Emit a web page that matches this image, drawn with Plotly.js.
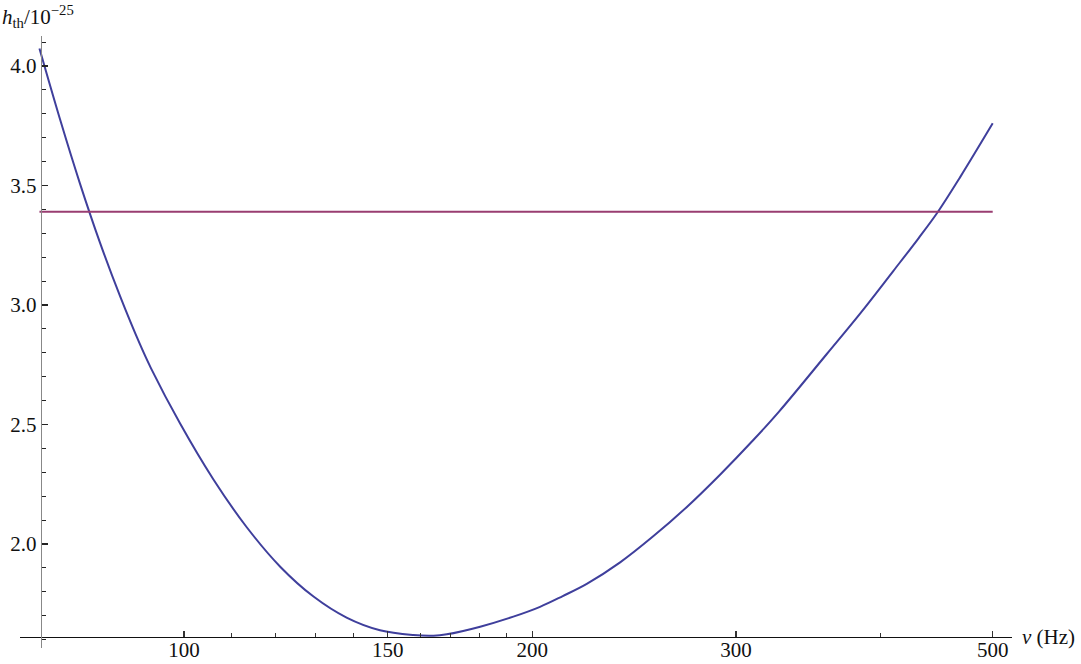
<!DOCTYPE html>
<html>
<head>
<meta charset="utf-8">
<script src="https://cdn.plot.ly/plotly-3.0.1.min.js"></script>
<style>html,body{margin:0;padding:0;background:#fff;}#chart{width:1081px;height:664px;}</style>
</head>
<body>
<div id="chart"></div>
<script>
// frequency (Hz) and threshold strain h_th in units of 1e-25
const freq = [75, 78.1, 81.3, 84.6, 88.05, 91.6, 93.65, 99.2, 106, 113.3, 121.1, 129.4, 138.2, 147.7, 157.8, 164.3, 168.7, 180.3, 192.6, 203.1, 212.5, 222.9, 238.2, 254.4, 271.9, 290.6, 310.5, 326.8, 359.4, 384, 410.2, 431.2, 448.4, 468.5, 500];
const hth  = [4.073, 3.780, 3.508, 3.261, 3.037, 2.836, 2.735, 2.505, 2.271, 2.070, 1.905, 1.780, 1.692, 1.639, 1.619, 1.616, 1.622, 1.654, 1.696, 1.737, 1.782, 1.833, 1.923, 2.032, 2.154, 2.290, 2.435, 2.554, 2.795, 2.964, 3.142, 3.278, 3.390, 3.534, 3.760];
const levelX = [75, 500];
const levelY = [3.39, 3.39];

const xMajorTicks = [100, 150, 200, 300, 500];
const xMajorLabels = ["100", "150", "200", "300", "500"];
const xMinorTicks = [110, 120, 130, 140, 160, 170, 180, 190, 400];

const font = "Liberation Serif, Times New Roman, serif";

const traces = [
  {x: freq, y: hth, type: 'scatter', mode: 'lines',
   line: {color: '#3f3f9c', width: 2, shape: 'spline', smoothing: 1}, hoverinfo: 'skip'},
  {x: levelX, y: levelY, type: 'scatter', mode: 'lines',
   line: {color: '#993d71', width: 2}, hoverinfo: 'skip'}
];

const layout = {
  width: 1081, height: 664, autosize: false,
  margin: {l: 20, r: 69, t: 36, b: 16, pad: 0},
  paper_bgcolor: '#fff', plot_bgcolor: '#fff',
  showlegend: false,
  font: {family: font, size: 21, color: '#111'},
  xaxis: {
    type: 'log', range: [1.85825, 2.71564],
    anchor: 'free', position: 0.0185,
    showgrid: false, zeroline: false,
    showline: true, linecolor: '#111', linewidth: 1.3,
    tickmode: 'array', tickvals: xMajorTicks, ticktext: xMajorLabels,
    ticks: 'inside', ticklen: 6, tickwidth: 1.2, tickcolor: '#333',
    ticklabelstandoff: -6,
    tickfont: {family: font, size: 21, color: '#111'},
    minor: {tickmode: 'array', tickvals: xMinorTicks, ticks: 'inside', ticklen: 4, tickwidth: 1, tickcolor: '#333', showgrid: false}
  },
  yaxis: {
    range: [1.5648, 4.1255],
    anchor: 'free', position: 0.0209,
    showgrid: false, zeroline: false,
    showline: true, linecolor: '#888', linewidth: 1.5,
    tickmode: 'linear', tick0: 0, dtick: 0.5, tickformat: '.1f',
    ticks: 'inside', ticklen: 6, tickwidth: 1.2, tickcolor: '#222',
    tickfont: {family: font, size: 21, color: '#111'},
    minor: {tickmode: 'linear', tick0: 0, dtick: 0.1, ticks: 'inside', ticklen: 4, tickwidth: 1, tickcolor: '#222', showgrid: false}
  },
  annotations: [
    {xref: 'paper', yref: 'paper', x: 1, y: 0.0185, xanchor: 'left', yanchor: 'middle', xshift: 8,
     text: '<i>ν</i> (Hz)', showarrow: false, font: {family: font, size: 21, color: '#111'}},
    {xref: 'paper', yref: 'paper', x: 0, y: 1, xanchor: 'left', yanchor: 'middle', xshift: -20, yshift: 20,
     text: '<i>h</i><sub>th</sub>/10<sup>−25</sup>', showarrow: false, font: {family: font, size: 21, color: '#111'}}
  ]
};

Plotly.newPlot('chart', traces, layout, {displayModeBar: false, staticPlot: true});
</script>
</body>
</html>
